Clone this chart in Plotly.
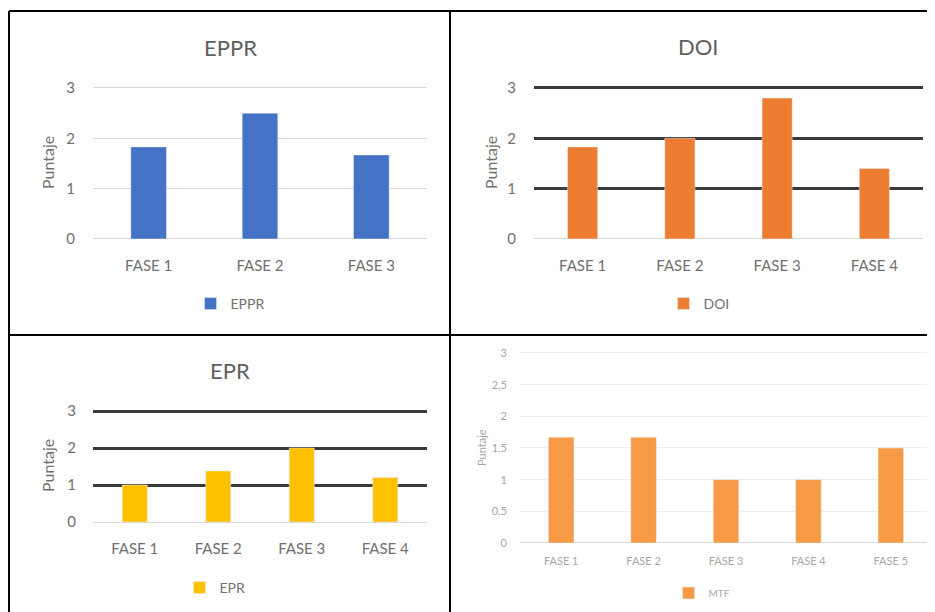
import plotly.graph_objects as go

W, H = 935, 612
OFF = 8  # page body margin offsets the figure by 8px

# ---- data ----
eppr_cats = ["FASE 1", "FASE 2", "FASE 3"]
eppr_vals = [1.83, 2.5, 1.67]

doi_cats = ["FASE 1", "FASE 2", "FASE 3", "FASE 4"]
doi_vals = [1.83, 2.0, 2.8, 1.4]

epr_cats = ["FASE 1", "FASE 2", "FASE 3", "FASE 4"]
epr_vals = [1.0, 1.38, 2.0, 1.2]

mtf_cats = ["FASE 1", "FASE 2", "FASE 3", "FASE 4", "FASE 5"]
mtf_vals = [1.67, 1.67, 1.0, 1.0, 1.5]

y3_ticks = [0, 1, 2, 3]
y3_text = ["0", "1", "2", "3"]
mtf_ticks = [0, 0.5, 1, 1.5, 2, 2.5, 3]
mtf_text = ["0", "0,5", "1", "1,5", "2", "2,5", "3"]

FONT = "Lato"
GRAY = "#707070"
TGRAY = "#5f5f5f"
LIGHT = "#A6A6A6"
TOP = 3.04  # range top slightly above 3 so the gridline at 3 is drawn


def px(x):
    return (x - OFF) / W


def py(y):
    return 1 - (y - OFF) / H


def ydom(y0pix, y3pix):
    per = (y0pix - y3pix) / 3.0
    top_pix = y0pix - per * TOP
    return [py(y0pix), py(top_pix)]


fig = go.Figure()

fig.add_trace(go.Bar(x=eppr_cats, y=eppr_vals, name="EPPR", marker_color="#4472C4",
                     width=0.32, xaxis="x", yaxis="y", legend="legend"))
fig.add_trace(go.Bar(x=doi_cats, y=doi_vals, name="DOI", marker_color="#ED7D31",
                     width=0.31, xaxis="x2", yaxis="y2", legend="legend2"))
fig.add_trace(go.Bar(x=epr_cats, y=epr_vals, name="EPR", marker_color="#FFC000",
                     width=0.30, xaxis="x3", yaxis="y3", legend="legend3"))
fig.add_trace(go.Bar(x=mtf_cats, y=mtf_vals, name="MTF", marker_color="#F79A45",
                     width=0.31, xaxis="x4", yaxis="y4", legend="legend4"))


def xax(dom, anchor, size, color, standoff):
    return dict(domain=dom, anchor=anchor, showgrid=False, zeroline=False, automargin=False,
                showline=False, ticks="", tickfont=dict(family=FONT, size=size, color=color),
                ticklabelstandoff=standoff, fixedrange=True)


def yax(dom, anchor, tv, tt, size, color, gridcolor, gridwidth, standoff):
    return dict(domain=dom, anchor=anchor, range=[0, TOP], tickvals=tv, ticktext=tt,
                showgrid=True, gridcolor=gridcolor, gridwidth=gridwidth, automargin=False,
                zeroline=True, zerolinecolor="#D9D9D9", zerolinewidth=1,
                showline=False, ticks="", tickfont=dict(family=FONT, size=size, color=color),
                ticklabelstandoff=standoff, fixedrange=True)


fig.update_layout(
    width=W, height=H,
    margin=dict(l=0, r=0, t=0, b=0, autoexpand=False),
    paper_bgcolor="white", plot_bgcolor="white",
    showlegend=True,
    xaxis=xax([px(93), px(427)], "y", 15, GRAY, 16),
    yaxis=yax(ydom(239, 88), "x", y3_ticks, y3_text, 15, GRAY, "#D9D9D9", 1, 17),
    xaxis2=xax([px(534), px(923)], "y2", 15, GRAY, 16),
    yaxis2=yax(ydom(239, 88), "x2", y3_ticks, y3_text, 15, GRAY, "#3A3A3A", 2.5, 17),
    xaxis3=xax([px(93), px(427)], "y3", 15, GRAY, 16),
    yaxis3=yax(ydom(522, 411), "x3", y3_ticks, y3_text, 15, GRAY, "#3A3A3A", 2.5, 16),
    xaxis4=xax([px(520), px(932)], "y4", 11, LIGHT, 10),
    yaxis4=yax(ydom(543, 353), "x4", mtf_ticks, mtf_text, 11, LIGHT, "#EDEDED", 1, 12),
)

leg_common = dict(orientation="h", xanchor="center", yanchor="middle", itemwidth=30,
                  bgcolor="rgba(0,0,0,0)", itemclick=False, itemdoubleclick=False)
fig.update_layout(
    legend=dict(x=px(230), y=py(304), font=dict(family=FONT, size=14, color=GRAY), **leg_common),
    legend2=dict(x=px(699), y=py(304), font=dict(family=FONT, size=14, color=GRAY), **leg_common),
    legend3=dict(x=px(215), y=py(588), font=dict(family=FONT, size=14, color=GRAY), **leg_common),
    legend4=dict(x=px(702), y=py(593), font=dict(family=FONT, size=10, color=LIGHT), **leg_common),
)

annotations = [
    dict(text="EPPR", x=px(230), y=py(47), font=dict(family=FONT, size=22, color=TGRAY)),
    dict(text="DOI", x=px(698), y=py(46), font=dict(family=FONT, size=22, color=TGRAY)),
    dict(text="EPR", x=px(230), y=py(370), font=dict(family=FONT, size=22, color=TGRAY)),
    dict(text="Puntaje", x=px(47), y=py(163), textangle=-90, font=dict(family=FONT, size=16, color=GRAY)),
    dict(text="Puntaje", x=px(490), y=py(163), textangle=-90, font=dict(family=FONT, size=16, color=GRAY)),
    dict(text="Puntaje", x=px(47), y=py(466), textangle=-90, font=dict(family=FONT, size=16, color=GRAY)),
    dict(text="Puntaje", x=px(481), y=py(448), textangle=-90, font=dict(family=FONT, size=11, color=LIGHT)),
]
for a in annotations:
    a.update(xref="paper", yref="paper", showarrow=False, xanchor="center", yanchor="middle")
fig.update_layout(annotations=annotations)

line = dict(color="black", width=2)
shapes = [
    dict(type="line", x0=px(9), x1=px(9), y0=py(11), y1=0),
    dict(type="line", x0=px(9), x1=1, y0=py(11), y1=py(11)),
    dict(type="line", x0=px(450), x1=px(450), y0=py(11), y1=0),
    dict(type="line", x0=px(9), x1=1, y0=py(335), y1=py(335)),
]
for s in shapes:
    s.update(xref="paper", yref="paper", line=line)
fig.update_layout(shapes=shapes)

fig.write_html("out.html")
